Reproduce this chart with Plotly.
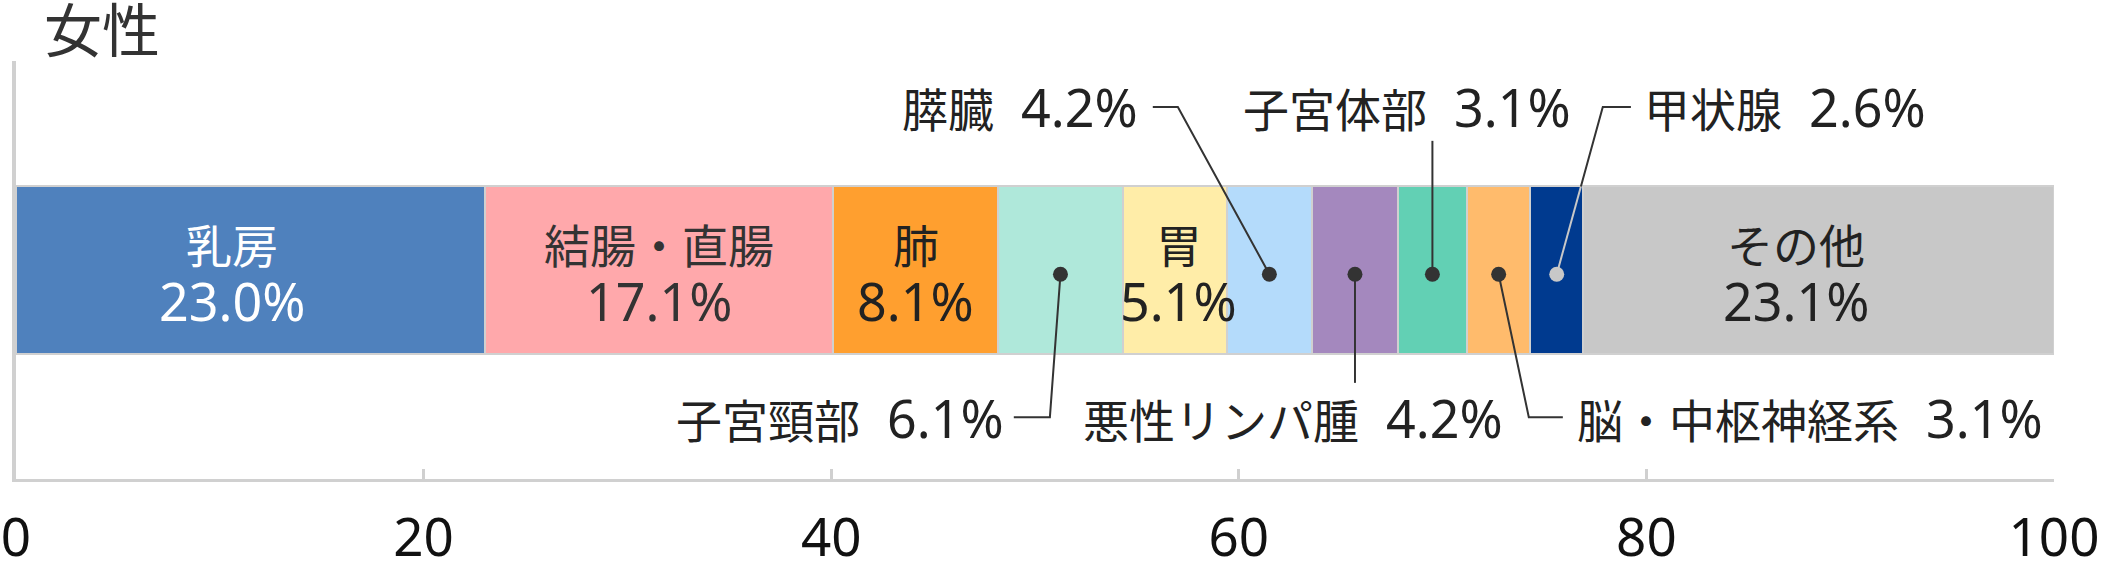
import numpy as np
import plotly.graph_objects as go

# ---------------- data ----------------
categories = ["乳房", "結腸・直腸", "肺", "子宮頸部", "胃", "膵臓",
              "悪性リンパ腫", "子宮体部", "脳・中枢神経系", "甲状腺", "その他"]
values = [23.0, 17.1, 8.1, 6.1, 5.1, 4.2, 4.2, 3.4, 3.1, 2.6, 23.1]
pct_labels = ["23.0%", "17.1%", "8.1%", "6.1%", "5.1%", "4.2%",
              "4.2%", "3.1%", "3.1%", "2.6%", "23.1%"]
group_label = "女性"
x_ticks = [0, 20, 40, 60, 80, 100]

# ---------------- styles ----------------
colors = ["#4F81BD", "#FFA8AB", "#FF9F2F", "#AFE8DA", "#FFEDA8", "#B4DBFB",
          "#A488BE", "#62D0B4", "#FFBB6C", "#003A8F", "#C8C8C8"]
FONT = "Noto Sans, Noto Sans CJK JP, sans-serif"
TXT = "#222222"
AX = "#D0D0D0"
NAME_SIZE = 46
PCT_SIZE = 52
BAR_W = 0.4
DOT_Y = -0.01

# inside labels: index -> (text color, horizontal offset in axis units)
inside = {0: ("#FFFFFF", -0.9), 1: ("#333333", 0.0), 2: (TXT, 0.0),
          4: (TXT, 0.2), 10: (TXT, -1.1)}
NAME_Y, PCT_Y = 0.06, -0.072

# callouts (layout positions in axis units)
TOP_Y, BOT_Y = 0.390, -0.352
callouts = {
    3: dict(path=[(50.73, BOT_Y), (48.96, BOT_Y)], lx=48.56, ly=BOT_Y, anchor="right"),
    5: dict(path=[(57.01, TOP_Y), (55.78, TOP_Y)], lx=55.14, ly=TOP_Y, anchor="right"),
    6: dict(path=[(None, -0.270)], lx=62.65, ly=BOT_Y, anchor="center"),
    7: dict(path=[(None, 0.309)], lx=68.25, ly=TOP_Y, anchor="center"),
    8: dict(path=[(74.23, BOT_Y), (75.90, BOT_Y)], lx=76.49, ly=BOT_Y, anchor="left"),
    9: dict(path=[(77.86, TOP_Y), (79.24, TOP_Y)], lx=79.80, ly=TOP_Y, anchor="left",
            inner="#C8C8C8"),
}

vals = np.array(values)
starts = np.concatenate([[0], np.cumsum(vals)[:-1]])
centers = starts + vals / 2

fig = go.Figure()
for i, (c, v) in enumerate(zip(categories, values)):
    fig.add_trace(go.Bar(
        x=[v], y=[0], orientation="h", width=BAR_W, name=c,
        marker=dict(color=colors[i], line=dict(color=AX, width=2)),
        hoverinfo="skip", showlegend=False))

annotations = []
for i, (col, off) in inside.items():
    annotations.append(dict(x=centers[i] + off, y=NAME_Y, xref="x", yref="y",
                            text=categories[i], showarrow=False,
                            font=dict(family=FONT, size=NAME_SIZE, color=col)))
    annotations.append(dict(x=centers[i] + off, y=PCT_Y, xref="x", yref="y",
                            text=pct_labels[i], showarrow=False,
                            font=dict(family=FONT, size=PCT_SIZE, color=col)))

for i, co in callouts.items():
    cx = centers[i]
    pts = [(cx, DOT_Y)] + [((cx if px is None else px), py) for px, py in co["path"]]
    if "inner" in co:
        (x0, y0), (x1, y1) = pts[0], pts[1]
        t = (BAR_W / 2 - y0) / (y1 - y0)
        xm = x0 + t * (x1 - x0)
        fig.add_trace(go.Scatter(x=[x0, xm], y=[y0, BAR_W / 2], mode="lines",
                                 line=dict(color=co["inner"], width=2),
                                 hoverinfo="skip", showlegend=False))
        dark = [(xm, BAR_W / 2)] + pts[1:]
        dot_col = co["inner"]
    else:
        dark = pts
        dot_col = "#333333"
    fig.add_trace(go.Scatter(x=[p[0] for p in dark], y=[p[1] for p in dark],
                             mode="lines", line=dict(color="#333333", width=2),
                             hoverinfo="skip", showlegend=False))
    fig.add_trace(go.Scatter(x=[cx], y=[DOT_Y], mode="markers",
                             marker=dict(color=dot_col, size=15),
                             hoverinfo="skip", showlegend=False))
    annotations.append(dict(
        x=co["lx"], y=co["ly"], xref="x", yref="y", xanchor=co["anchor"],
        yanchor="middle", showarrow=False,
        text=f'<span style="font-size:{NAME_SIZE}px">{categories[i]}</span>'
             f'\u00a0\u00a0{pct_labels[i]}',
        font=dict(family=FONT, size=PCT_SIZE, color=TXT)))

annotations.append(dict(x=0.013, y=1.075, xref="paper", yref="paper",
                        xanchor="left", yanchor="middle", showarrow=False,
                        text=group_label,
                        font=dict(family=FONT, size=58, color="#333333")))

fig.update_layout(
    width=2103, height=574,
    margin=dict(l=16, r=49, t=61, b=95, autoexpand=False),
    paper_bgcolor="white", plot_bgcolor="white",
    barmode="stack", bargap=0,
    annotations=annotations,
    xaxis=dict(range=[0, 100], tickvals=x_ticks, ticktext=[str(t) for t in x_ticks],
               ticks="inside", ticklen=10, tickwidth=3, tickcolor=AX,
               showline=True, linecolor=AX, linewidth=3,
               showgrid=False, zeroline=False, automargin=False,
               ticklabelstandoff=10,
               tickfont=dict(family=FONT, size=53, color="#111111")),
    yaxis=dict(range=[-0.5, 0.5], showticklabels=False, ticks="",
               showline=True, linecolor=AX, linewidth=4,
               showgrid=False, zeroline=False, automargin=False),
)

fig.write_html(
    "out.html",
    config={"displayModeBar": False},
    post_script="document.body.style.margin='0';document.body.style.overflow='hidden';",
)
